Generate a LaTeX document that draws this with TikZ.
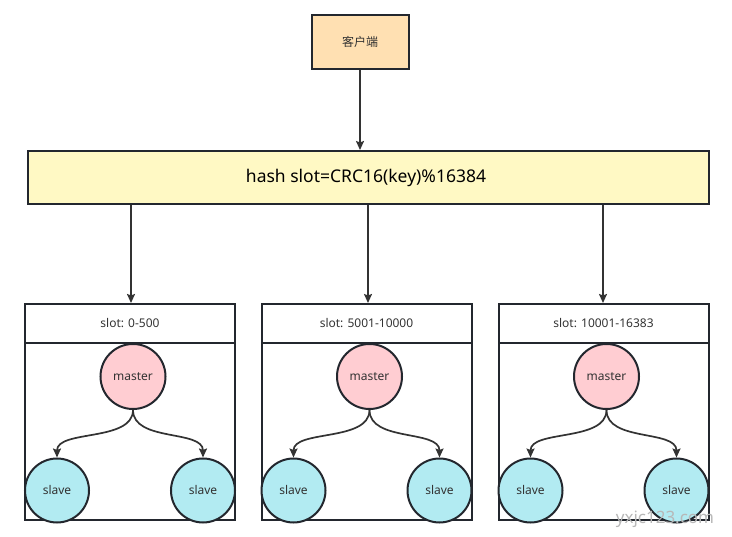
\documentclass[tikz,border=0pt]{standalone}
\usepackage{fontspec}
\setmainfont{Noto Sans}
\newfontfamily\cjk{Noto Sans CJK SC}
\usetikzlibrary{arrows.meta,calc}
\definecolor{strokec}{HTML}{23272E}
\definecolor{arrowc}{HTML}{333333}
\definecolor{clientfill}{HTML}{FFE0B2}
\definecolor{hashfill}{HTML}{FFF9C4}
\definecolor{masterfill}{HTML}{FFCDD2}
\definecolor{slavefill}{HTML}{B2EBF2}
\definecolor{textc}{HTML}{333333}
\tikzset{
  boxline/.style={draw=strokec, line width=2pt},
  clientbox/.style={boxline, fill=clientfill, minimum width=97pt, minimum height=54pt, inner sep=0pt, text=textc, font=\cjk\fontsize{12}{14}\selectfont},
  hashbox/.style={boxline, fill=hashfill, minimum width=681pt, minimum height=53pt, inner sep=0pt, text=black, font=\fontsize{17.5}{20}\selectfont},
  groupbox/.style={boxline, minimum width=210pt, minimum height=216pt, inner sep=0pt},
  headbox/.style={boxline, minimum width=210pt, minimum height=39pt, inner sep=0pt, text=textc, font=\fontsize{12}{14}\selectfont},
  masternode/.style={boxline, circle, fill=masterfill, minimum size=65pt, inner sep=0pt, text=textc, font=\fontsize{12}{14}\selectfont},
  slavenode/.style={boxline, circle, fill=slavefill, minimum size=64pt, inner sep=0pt, text=textc, font=\fontsize{12}{14}\selectfont},
  conn/.style={draw=arrowc, line width=1.7pt, -{Stealth[length=9pt,width=8pt,inset=1.5pt]}},
  watermark/.style={text=black!28, font=\fontsize{17}{20}\selectfont, inner sep=0pt}
}
\begin{document}
\begin{tikzpicture}[x=1pt,y=-1pt]
\useasboundingbox (0,0) rectangle (732,537);
\node[clientbox] (client) at (360,42) {客户端};
\node[hashbox] (hash) at (368.5,177.5) {\hspace*{-5pt}hash slot=CRC16(key)\%16384};
\draw[conn] (client.south) -- (client.south |- hash.north);
\foreach \i/\cx/\dx/\txt in {1/130/1/{slot: 0-500}, 2/366.5/1.5/{slot: 5001-10000}, 3/603.5/-0.5/{slot: 10001-16383}} {
  \node[groupbox] (g\i) at (\cx,412) {};
  \node[headbox, anchor=north] (h\i) at (g\i.north) {\txt};
  \node[masternode] (m\i) at (\cx+3,376.5) {master};
  \node[slavenode] (sl\i) at (\cx-73,490.5) {slave};
  \node[slavenode] (sr\i) at (\cx+73,490.5) {slave};
  \draw[conn] (m\i.south) .. controls ($(m\i.south)+(0,32)$) and ($(sl\i.north)+(0,-28)$) .. (sl\i.north);
  \draw[conn] (m\i.south) .. controls ($(m\i.south)+(0,32)$) and ($(sr\i.north)+(0,-28)$) .. (sr\i.north);
  \coordinate (t\i) at ($(g\i.north)+(\dx,0)$);
  \draw[conn] (hash.south -| t\i) -- (t\i);
}
\node[watermark] (wm) at (665,519) {yxjc123.com};
\end{tikzpicture}
\end{document}
